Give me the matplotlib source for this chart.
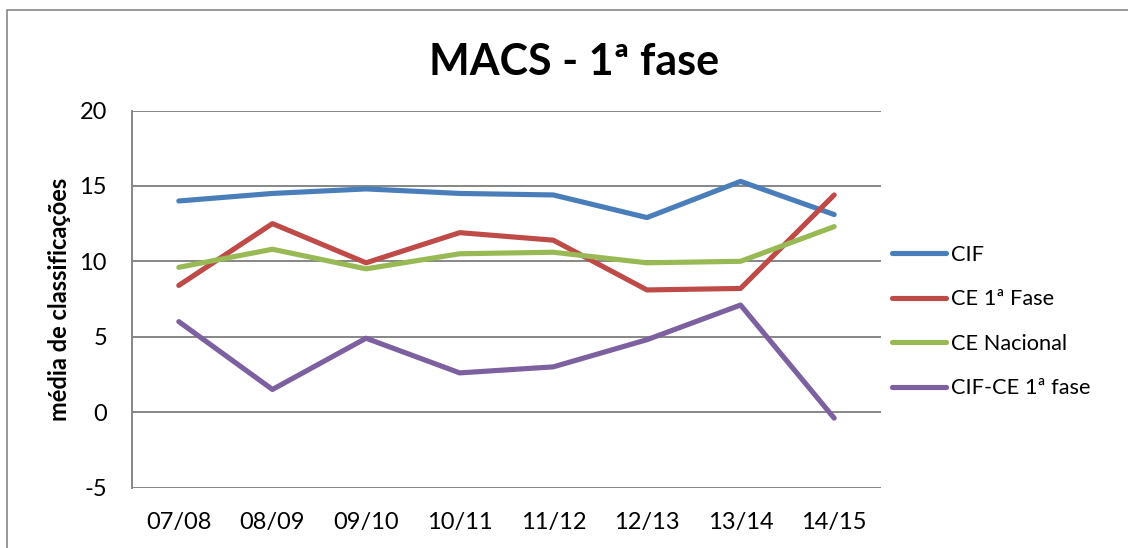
import matplotlib
matplotlib.use("Agg")
import matplotlib.pyplot as plt
from matplotlib.patches import Rectangle

anos = ["07/08", "08/09", "09/10", "10/11", "11/12", "12/13", "13/14", "14/15"]
cif = [14.0, 14.5, 14.8, 14.5, 14.4, 12.9, 15.3, 13.1]
ce_1fase = [8.4, 12.5, 9.9, 11.9, 11.4, 8.1, 8.2, 14.4]
ce_nacional = [9.6, 10.8, 9.5, 10.5, 10.6, 9.9, 10.0, 12.3]
cif_ce = [6.0, 1.5, 4.9, 2.6, 3.0, 4.8, 7.1, -0.4]

series = [("CIF", cif, "#4A7EBB"),
          ("CE 1ª Fase", ce_1fase, "#BE4B48"),
          ("CE Nacional", ce_nacional, "#98B954"),
          ("CIF-CE 1ª fase", cif_ce, "#7D60A0")]

plt.rcParams['font.family'] = ['Lato', 'DejaVu Sans']
plt.rcParams['axes.unicode_minus'] = False

fig = plt.figure(figsize=(11.28, 5.48), dpi=100)
# outer chart border
fig.patches.append(Rectangle((7/1128, -0.01), 1.02, (538/548) + 0.01,
                             transform=fig.transFigure, fill=False,
                             edgecolor="#868686", linewidth=1.2))

ax = fig.add_axes([132/1128, 60.5/548, 749/1128, 377/548])
x = range(len(anos))
for nome, vals, cor in series:
    ax.plot(x, vals, color=cor, linewidth=3.7, label=nome,
            solid_capstyle="round", solid_joinstyle="round")

ax.set_xlim(-0.5, len(anos) - 0.5)
ax.set_ylim(-5, 20)
ax.set_yticks([-5, 0, 5, 10, 15, 20])
ax.set_xticks(list(x))
ax.set_xticklabels(anos)
ax.tick_params(axis="both", length=0, labelsize=17, colors="black")
ax.tick_params(axis="x", pad=18)
ax.tick_params(axis="y", pad=18)
ax.grid(axis="y", color="#868686", linewidth=1.4)
ax.set_axisbelow(True)
for s in ["top", "right", "bottom"]:
    ax.spines[s].set_visible(False)
ax.spines["left"].set_color("#868686")
ax.spines["left"].set_linewidth(1.4)

ax.set_ylabel("média de classificações", fontsize=17, fontweight="bold",
              labelpad=6)
fig.text(574/1128, 1 - 62/548, "MACS - 1ª fase", fontsize=31,
         fontweight="bold", ha="center", va="center")

ax.legend(loc="center left", bbox_to_anchor=(1.0, 0.44), frameon=False,
          fontsize=15.7, handlelength=2.5, handletextpad=0.2,
          labelspacing=1.12, borderaxespad=0.1)

fig.savefig("out.png", dpi=100)
